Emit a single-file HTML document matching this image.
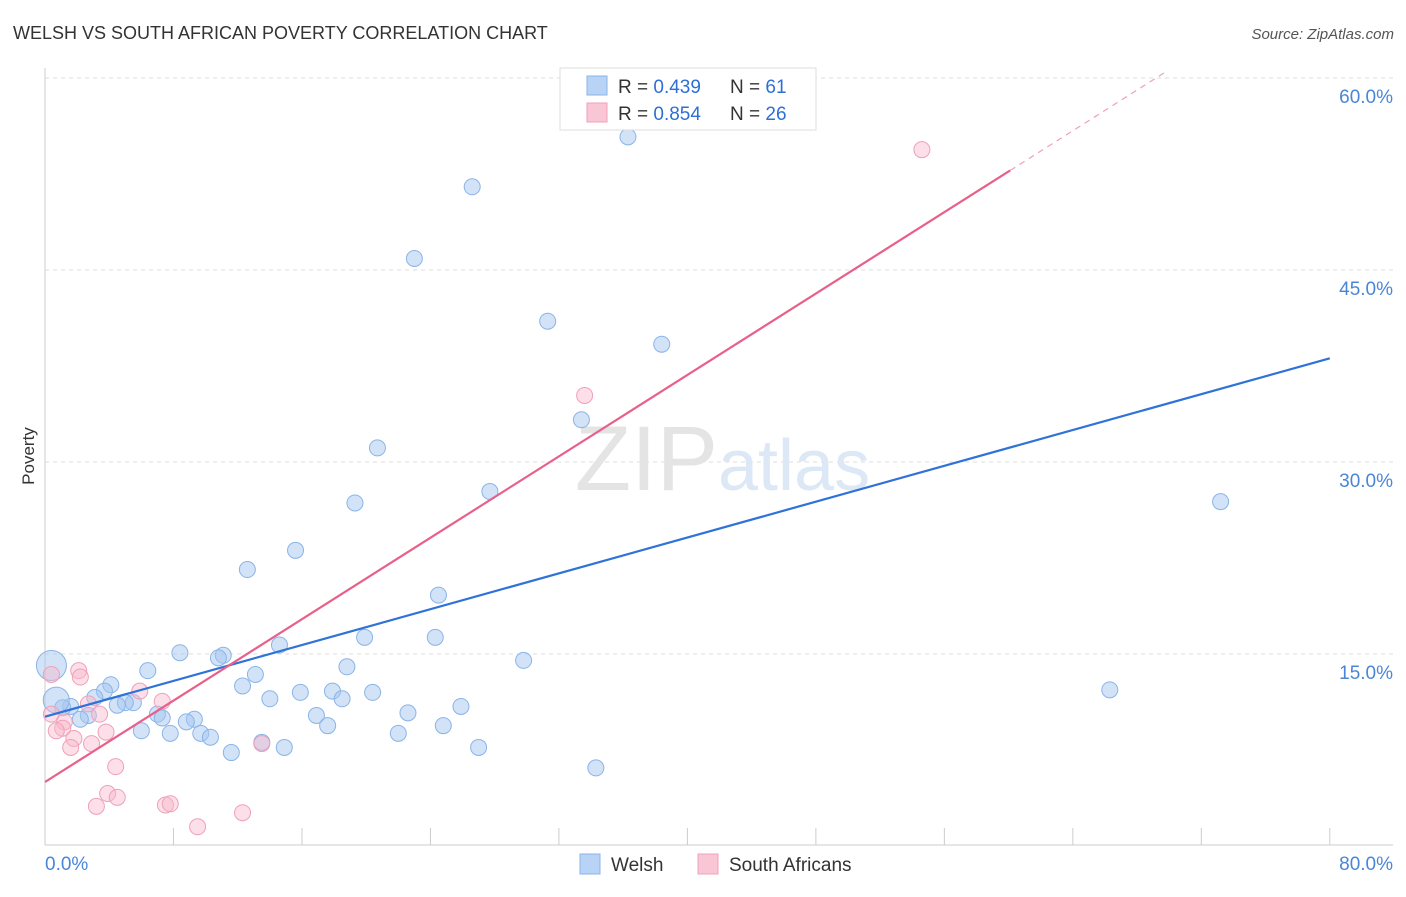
<!DOCTYPE html>
<html><head><meta charset="utf-8"><style>
body{margin:0;background:#fff;font-family:"Liberation Sans",sans-serif;}
svg text{font-family:"Liberation Sans",sans-serif;}
</style></head><body>
<svg id="chart" width="1406" height="892">
<text x="13" y="39" font-size="18" fill="#333">WELSH VS SOUTH AFRICAN POVERTY CORRELATION CHART</text>
<text x="1394" y="39" font-size="15" fill="#555" font-style="italic" text-anchor="end">Source: ZipAtlas.com</text>
<text x="34" y="456" font-size="17" fill="#333" transform="rotate(-90 34 456)" text-anchor="middle">Poverty</text>
<g id="grid"></g>
<text x="718" y="490" font-size="92" fill="#e4e4e4" text-anchor="end" font-family="Liberation Serif">ZIP</text>
<text x="718" y="490" font-size="72" fill="#dce8f6">atlas</text>
<g id="marks"></g>
<g>
<rect x="560" y="68" width="256" height="62" fill="#fff" stroke="#ddd"/>
<rect x="587" y="76" width="20" height="19" fill="#b8d3f5" stroke="#8ab4e8"/>
<rect x="587" y="103" width="20" height="19" fill="#f8c6d4" stroke="#f0a0b8"/>
<text x="618" y="93" font-size="19" fill="#333">R = <tspan fill="#2d6fd6">0.439</tspan></text>
<text x="730" y="93" font-size="19" fill="#333">N = <tspan fill="#2d6fd6"> 61</tspan></text>
<text x="618" y="120" font-size="19" fill="#333">R = <tspan fill="#2d6fd6">0.854</tspan></text>
<text x="730" y="120" font-size="19" fill="#333">N = <tspan fill="#2d6fd6"> 26</tspan></text>
</g>
<g>
<rect x="580" y="854" width="20" height="20" fill="#b8d3f5" stroke="#8ab4e8"/>
<text x="611" y="871" font-size="19" fill="#333">Welsh</text>
<rect x="698" y="854" width="20" height="20" fill="#f8c6d4" stroke="#f0a0b8"/>
<text x="729" y="871" font-size="19" fill="#333">South Africans</text>
</g>
</svg>
<script>
const xTicks=[0,80];
const yTicks=[15,30,45,60];
const welshX=[36.3,26.6,23.0,31.3,38.4,33.4,20.7,27.7,19.3,73.2,15.6,12.6,24.5,24.3,19.9,14.6,8.4,11.1,10.8,29.8,18.8,6.4,13.1,4.1,12.3,66.3,17.9,15.9,20.4,3.7,3.1,14.0,18.5,5.5,5.0,4.5,25.9,1.6,1.1,22.6,7.0,16.9,2.7,7.3,2.2,9.3,8.8,24.8,17.6,7.8,6.0,9.7,22.0,10.3,27.0,14.9,11.6,13.5,34.3,0.4,0.7];
const welshY=[55.4,51.5,45.9,41.0,39.2,33.3,31.1,27.7,26.8,26.9,23.1,21.6,19.6,16.3,16.3,15.7,15.1,14.9,14.7,14.5,14.0,13.7,13.4,12.6,12.5,12.2,12.1,12.0,12.0,12.1,11.6,11.5,11.5,11.2,11.2,11.0,10.9,10.9,10.8,10.4,10.3,10.2,10.2,10.0,9.9,9.9,9.7,9.4,9.4,8.8,9.0,8.8,8.8,8.5,7.7,7.7,7.3,8.1,6.1,14.1,11.4];
const saX=[54.6,33.6,2.1,2.2,5.9,0.4,7.3,2.7,3.4,0.4,1.2,1.1,0.7,3.8,1.8,2.9,1.6,13.5,4.4,3.9,4.5,3.2,7.5,7.8,12.3,9.5];
const saY=[54.4,35.2,13.7,13.2,12.1,13.4,11.3,11.1,10.3,10.3,9.7,9.2,9.0,8.9,8.4,8.0,7.7,8.0,6.2,4.1,3.8,3.1,3.2,3.3,2.6,1.5];
const welshLine=[10.1,38.1];
const saLine=[5.0,68.6];
const X=v=>45+v*16.06, Y=v=>846-v*12.8;
const NS="http://www.w3.org/2000/svg";
function mk(t,a,p){const e=document.createElementNS(NS,t);for(const k in a)e.setAttribute(k,a[k]);p.appendChild(e);return e;}
const g=document.getElementById('grid'),m=document.getElementById('marks');
let ax=mk('line',{x1:45,y1:68,x2:45,y2:845,stroke:'#ccc'},g);


let bx=mk('line',{x1:45,y1:845,x2:1393,y2:845,stroke:'#ccc'},g);


yTicks.forEach(v=>{
 let l=mk('line',{x1:45,x2:1393,y1:Y(v),y2:Y(v),stroke:'#ddd','stroke-dasharray':'4,4'},g);
 
 
 let t=mk('text',{x:1393,y:Y(v)+25,'font-size':19,fill:'#4a86d8','text-anchor':'end'},g);t.textContent=v.toFixed(1)+'%';
 
 
});
for(let i=1;i<=10;i++){let l=mk('line',{x1:X(i*8),x2:X(i*8),y1:828,y2:845,stroke:'#ccc'},g);
 
 }
xTicks.forEach((v,i)=>{let t=mk('text',{x:i?1393:45,y:870,'font-size':19,fill:'#4a86d8','text-anchor':i?'end':'start'},g);t.textContent=v.toFixed(1)+'%';
 
 });
welshX.forEach((x,i)=>{const r=i>=59?(i==59?15:13):8;
 let c=mk('circle',{cx:X(x),cy:Y(welshY[i]),r:r,fill:'rgba(165,198,240,0.5)',stroke:'#8ab4e8','stroke-width':1},m);
 
 });
saX.forEach((x,i)=>{
 let c=mk('circle',{cx:X(x),cy:Y(saY[i]),r:8,fill:'rgba(248,185,205,0.45)',stroke:'#f0a0b8','stroke-width':1},m);
 
 });
let wl=mk('line',{x1:X(0),y1:Y(welshLine[0]),x2:X(80),y2:Y(welshLine[1]),stroke:'#2f72d8','stroke-width':2.2},m);


const sl=(saLine[1]-saLine[0])/80;
const xe=60.1;
let pl=mk('line',{x1:X(0),y1:Y(saLine[0]),x2:X(xe),y2:Y(saLine[0]+sl*xe),stroke:'#e8608a','stroke-width':2.2},m);


const x2=(60.6-saLine[0])/sl;
let pd=mk('line',{x1:X(xe),y1:Y(saLine[0]+sl*xe),x2:X(x2),y2:Y(saLine[0]+sl*x2),stroke:'#f0a0b8','stroke-width':1.2,'stroke-dasharray':'6,5'},m);


</script>
</body></html>
